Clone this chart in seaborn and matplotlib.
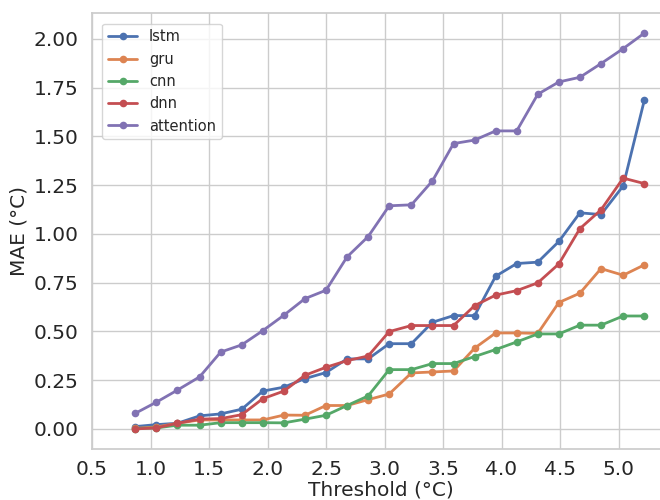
import numpy as np
import pandas as pd
import matplotlib
matplotlib.use("Agg")
import matplotlib.pyplot as plt
from matplotlib.ticker import MultipleLocator
import seaborn as sns

# thresholds (°C) and MAE per model
threshold = [0.87, 1.05, 1.23, 1.42, 1.60, 1.78, 1.96, 2.14, 2.32, 2.50, 2.68, 2.86, 3.04,
             3.23, 3.41, 3.59, 3.77, 3.95, 4.13, 4.31, 4.49, 4.67, 4.85, 5.04, 5.22]

lstm = [0.012, 0.022, 0.029, 0.067, 0.077, 0.101, 0.194, 0.214, 0.258, 0.289, 0.359, 0.359, 0.437,
        0.437, 0.547, 0.581, 0.581, 0.783, 0.848, 0.855, 0.961, 1.108, 1.099, 1.246, 1.684]
gru = [0.003, 0.010, 0.029, 0.046, 0.046, 0.046, 0.046, 0.071, 0.070, 0.120, 0.120, 0.150, 0.179,
       0.287, 0.292, 0.297, 0.414, 0.492, 0.492, 0.490, 0.648, 0.696, 0.822, 0.788, 0.841]
cnn = [0.002, 0.005, 0.019, 0.019, 0.032, 0.032, 0.032, 0.031, 0.050, 0.070, 0.120, 0.169, 0.304,
       0.304, 0.335, 0.335, 0.371, 0.407, 0.446, 0.487, 0.487, 0.532, 0.532, 0.579, 0.579]
dnn = [0.000, 0.005, 0.029, 0.050, 0.053, 0.073, 0.155, 0.194, 0.275, 0.316, 0.350, 0.374, 0.499,
       0.530, 0.530, 0.530, 0.632, 0.686, 0.709, 0.749, 0.846, 1.027, 1.123, 1.286, 1.258]
attention = [0.080, 0.137, 0.199, 0.267, 0.394, 0.431, 0.504, 0.583, 0.668, 0.711, 0.882, 0.986, 1.144,
             1.149, 1.272, 1.463, 1.481, 1.528, 1.528, 1.716, 1.779, 1.803, 1.873, 1.950, 2.029]

models = ["lstm", "gru", "cnn", "dnn", "attention"]
values = [lstm, gru, cnn, dnn, attention]

# long-form table for seaborn
df = pd.concat([
    pd.DataFrame({"Threshold": threshold, "MAE": v, "model": m})
    for m, v in zip(models, values)
], ignore_index=True)

sns.set_theme(style="whitegrid")

fig = plt.figure(figsize=(6.6, 5), dpi=100)
ax = fig.add_axes([92 / 660, 51 / 500, 578 / 660, 435.7 / 500])

sns.lineplot(data=df, x="Threshold", y="MAE", hue="model", hue_order=models,
             palette="deep", marker="o", markersize=5.5, markeredgewidth=0,
             linewidth=2, ax=ax)

ax.set_xlim(0.5, 5.44)
ax.set_ylim(-0.103, 2.131)
ax.xaxis.set_major_locator(MultipleLocator(0.5))
ax.yaxis.set_major_locator(MultipleLocator(0.25))
ax.yaxis.set_major_formatter(plt.FormatStrFormatter("%.2f"))
ax.tick_params(labelsize=14.5)
ax.tick_params(axis="x", pad=2)
ax.set_xlabel("Threshold (°C)", fontsize=14.5, labelpad=1)
ax.set_ylabel("MAE (°C)", fontsize=14.5)

ax.legend(loc="upper left", fontsize=10.5, borderaxespad=0.7)

fig.savefig("out.png", dpi=100)
